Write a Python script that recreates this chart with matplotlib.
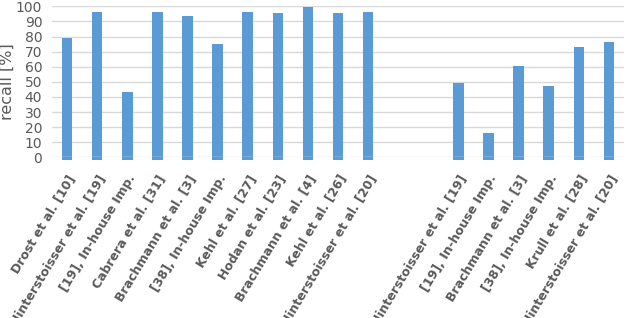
import matplotlib.pyplot as plt
import numpy as np

# --- données : rappel (%) par méthode, deux groupes séparés par deux cases vides ---
methodes = [
    "Drost et al. [10]", "Hinterstoisser et al. [19]", "[19], In-house Imp.",
    "Cabrera et al. [31]", "Brachmann et al. [3]", "[38], In-house Imp.",
    "Kehl et al. [27]", "Hodan et al. [23]", "Brachmann et al. [4]",
    "Kehl et al. [26]", "Hinterstoisser et al. [20]",
    "", "",
    "Hinterstoisser et al. [19]", "[19], In-house Imp.", "Brachmann et al. [3]",
    "[38], In-house Imp.", "Krull et al. [28]", "Hinterstoisser et al. [20]",
]
rappel = [
    79, 96.2, 43.3, 96.2, 93.6, 75, 96.2, 95.5, 99.5, 95.5, 96.2,
    np.nan, np.nan,
    49.2, 16.1, 60.5, 47.2, 73.1, 76.4,
]

gris = "#595959"
bleu = "#5b9bd5"

fig = plt.figure(figsize=(6.26, 3.18), dpi=100)
ax = fig.add_axes([52 / 626, (318 - 157.3) / 318, 572 / 626, 151 / 318])

x = np.arange(len(methodes))
r = np.array(rappel)
ok = ~np.isnan(r)
ax.bar(x[ok], r[ok] + 1.5, bottom=-1.5, width=0.35, color=bleu,
       zorder=2, clip_on=False)
# ligne du zéro éclaircie sur les barres
ax.hlines(np.zeros(ok.sum()), x[ok] - 0.2, x[ok] + 0.2, color="#e4edf7",
          lw=1, zorder=3)

ax.set_xlim(-0.5, len(methodes) - 0.5)
ax.set_ylim(0, 100)
ax.set_yticks(range(0, 101, 10))
ax.yaxis.grid(True, color="#d9d9d9", lw=1)
ax.set_axisbelow(True)
for s in ax.spines.values():
    s.set_visible(False)
ax.tick_params(axis="both", length=0, colors=gris)
ax.tick_params(axis="y", labelsize=10, pad=7)

ax.set_xticks(x)
ax.set_xticklabels(methodes, rotation=59, ha="right", rotation_mode="anchor",
                   fontsize=9, fontweight="bold", color=gris)
ax.tick_params(axis="x", pad=11)

ax.set_ylabel("recall [%]", fontsize=11.5, color=gris)
ax.yaxis.set_label_coords(-37 / 572, 0.5)

plt.savefig("out.png", dpi=100)
